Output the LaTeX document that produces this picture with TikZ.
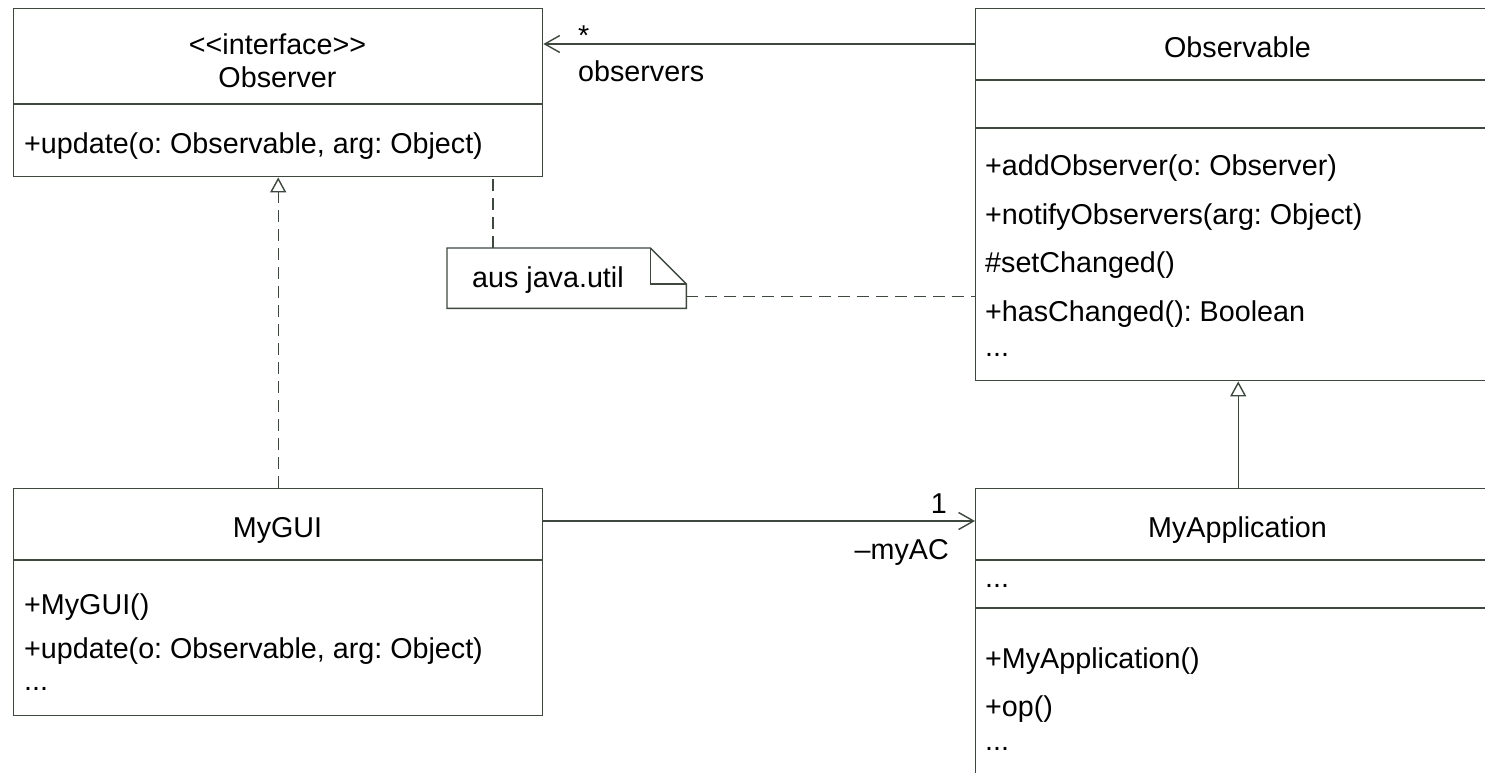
\documentclass[tikz,border=0pt]{standalone}
\usepackage{fontspec}
\setmainfont{Liberation Sans}[Ligatures=TeXOff]
\usetikzlibrary{arrows.meta}
\definecolor{linecol}{RGB}{62,72,62}
\tikzset{
  every node/.style={font=\fontsize{28.7pt}{34pt}\selectfont\frenchspacing, text=black},
  umlbox/.style={draw=linecol, line width=1.4pt, rectangle, inner sep=0pt, anchor=north west},
  divider/.style={draw=linecol, line width=1.4pt},
  txt/.style={inner sep=0pt, anchor=base west},
  ctxt/.style={inner sep=0pt, anchor=base},
  assoc/.style={draw=linecol, line width=1.4pt, -{Straight Barb[length=15pt,width=17pt,line width=1.4pt]}},
  realize/.style={draw=linecol, line width=1.4pt, dash pattern=on 12pt off 7pt, -{Triangle[open,length=15pt,width=16pt,line width=1.4pt]}},
  general/.style={draw=linecol, line width=1.4pt, -{Triangle[open,length=15pt,width=16pt,line width=1.4pt]}},
  notelink/.style={draw=linecol, line width=1.4pt, dash pattern=on 12pt off 7pt},
}
\begin{document}
\begin{tikzpicture}[x=1pt,y=-1pt]
\path[use as bounding box] (0,0) rectangle (1485,772);
\clip (0,0) rectangle (1485,772);
\fill[white] (0,0) rectangle (1485,772);

% Observer
\node[umlbox, minimum width=529pt, minimum height=168pt] (obs) at (13,8) {};
\draw[divider] (13,104) -- (542,104);
\node[ctxt] (obsst) at (277.5,54) {<<interface>>};
\node[ctxt] (obsname) at (277.5,87) {Observer};
\node[txt] (obsm1) at (24,153) {+update(o: Observable, arg: Object)};

% Observable
\node[umlbox, minimum width=525pt, minimum height=372pt] (obl) at (975,8) {};
\draw[divider] (975,80) -- (1500,80);
\draw[divider] (975,128) -- (1500,128);
\node[ctxt] (oblname) at (1237.5,57) {Observable};
\node[txt] (oblm1) at (985,175) {+addObserver(o: Observer)};
\node[txt] (oblm2) at (985,224) {+notifyObservers(arg: Object)};
\node[txt] (oblm3) at (985,272) {\#setChanged()};
\node[txt] (oblm4) at (985,321) {+hasChanged(): Boolean};
\node[txt] (oblm5) at (985,356) {...};

% MyGUI
\node[umlbox, minimum width=529pt, minimum height=227pt] (gui) at (13,488) {};
\draw[divider] (13,560) -- (542,560);
\node[ctxt] (guiname) at (277.5,537) {MyGUI};
\node[txt] (guim1) at (24,614) {+MyGUI()};
\node[txt] (guim2) at (24,658) {+update(o: Observable, arg: Object)};
\node[txt] (guim3) at (24,690) {...};

% MyApplication
\node[umlbox, minimum width=525pt, minimum height=320pt] (app) at (975,488) {};
\draw[divider] (975,560) -- (1500,560);
\draw[divider] (975,608) -- (1500,608);
\node[ctxt] (appname) at (1237.5,537) {MyApplication};
\node[txt] (appa1) at (985,587) {...};
\node[txt] (appm1) at (985,668) {+MyApplication()};
\node[txt] (appm2) at (985,716) {+op()};
\node[txt] (appm3) at (985,750) {...};

% Note
\node[inner sep=0pt, minimum width=239pt, minimum height=60pt, anchor=north west] (note) at (447,248) {};
\draw[linecol, line width=1.4pt] (note.north west) -- ([xshift=-36pt]note.north east) -- ([yshift=-36pt]note.north east) -- (note.south east) -- (note.south west) -- cycle;
\draw[linecol, line width=1.4pt] ([xshift=-36pt]note.north east) -- ([xshift=-36pt,yshift=-36pt]note.north east) -- ([yshift=-36pt]note.north east);
\node[txt] (notetext) at (472,287) {aus java.util};

% Connectors
\draw[assoc] ([yshift=-36pt]obl.north west) -- ([yshift=-36pt]obs.north east);
\node[txt] (star) at (578,45) {*};
\node[txt] (obsrole) at (578,81) {observers};

\draw[realize] (gui.north) -- (obs.south);
\draw[general] (app.north) -- (obl.south);

\draw[assoc] ([yshift=-33pt]gui.north east) -- ([yshift=-33pt]app.north west);
\node[inner sep=0pt, anchor=base east] (mult1) at (947,513) {1};
\node[inner sep=0pt, anchor=base east] (role1) at (949,559) {–myAC};

\draw[notelink] ([xshift=46pt]note.north west) -- ([xshift=46pt]note.north west |- obs.south);
\draw[notelink] ([yshift=12pt]note.south east) -- ([yshift=12pt]note.south east -| obl.west);
\end{tikzpicture}
\end{document}
